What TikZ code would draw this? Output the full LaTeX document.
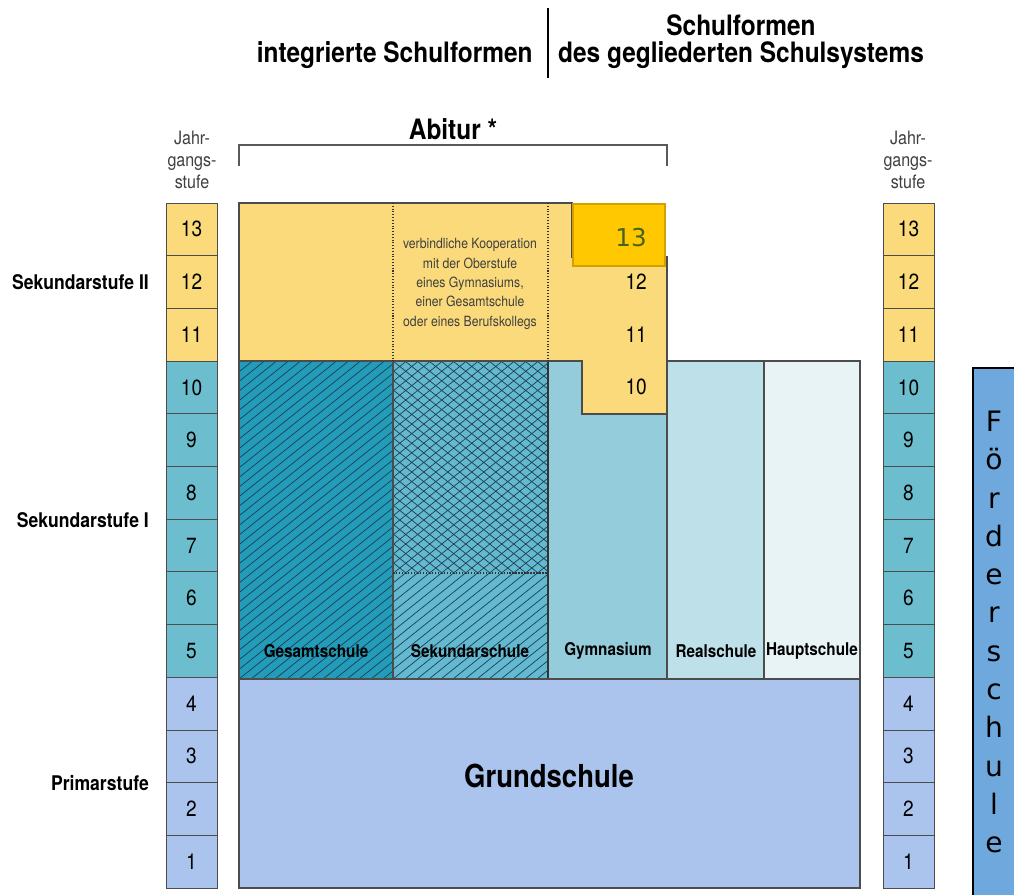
\documentclass[tikz,border=0pt]{standalone}
\usepackage{fontspec}
\setmainfont{TeX Gyre Heros}
\newfontfamily\condfont[FakeStretch=0.87]{TeX Gyre Heros}
\newfontfamily\vfont{DejaVu Sans}
\usetikzlibrary{positioning}
\definecolor{syellow}{RGB}{250,218,122}
\definecolor{sgold}{RGB}{255,200,0}
\definecolor{sgoldline}{RGB}{212,160,0}
\definecolor{sgoldtext}{RGB}{70,100,30}
\definecolor{steal}{RGB}{108,190,206}
\definecolor{sgesamt}{RGB}{34,156,186}
\definecolor{ssekund}{RGB}{100,185,210}
\definecolor{sgym}{RGB}{148,204,220}
\definecolor{sreal}{RGB}{190,224,232}
\definecolor{shaupt}{RGB}{232,243,246}
\definecolor{sgrund}{RGB}{170,196,238}
\definecolor{sfoerder}{RGB}{111,168,220}
\definecolor{shatch}{RGB}{30,60,70}

\begin{document}
\begin{tikzpicture}[x=0.02cm, y=-0.02cm,
  gradebox/.style={draw=gray!60!black, line width=0.5pt, minimum width=1.02cm,
    minimum height=1.054cm, inner sep=0pt, font=\condfont\fontsize{12.5}{14}\selectfont},
  blockline/.style={draw=gray!60!black, line width=0.6pt},
  blocklabel/.style={font=\condfont\bfseries\fontsize{10}{12}\selectfont, inner sep=1pt},
  stufelabel/.style={anchor=east, font=\condfont\bfseries\fontsize{11.5}{14}\selectfont},
  headlabel/.style={font=\condfont\bfseries\fontsize{16}{18}\selectfont, inner sep=0pt},
  jahrlabel/.style={align=center, text=black!75, font=\condfont\fontsize{10.5}{12.5}\selectfont},
  hatchline/.style={line width=0.4pt, shatch}]
\useasboundingbox (0,0) rectangle (1014,894);
\fill[white] (0,0) rectangle (1014,894);
% Header
\node[headlabel, anchor=base east] (integr) at (533,62) {integrierte Schulformen};
\node[headlabel, anchor=base] (gegl1) at (741,35) {Schulformen};
\node[headlabel, anchor=base] (gegl2) at (741,62) {des gegliederten Schulsystems};
\draw[line width=1.2pt] (548,8) -- (548,78);
% Abitur bracket
\node[headlabel, anchor=base] (abitur) at (453,139) {Abitur *};
\draw[gray!70!black, line width=0.8pt] (239,166) -- (239,145) -- (667,145) -- (667,166);
% Sekundarstufe I blocks
\fill[blockline, fill=sgesamt] (239,361) rectangle (393,679);
\fill[blockline, fill=ssekund] (393,361) rectangle (548,679);
\filldraw[blockline, fill=sgym] (548,361) rectangle (667,679);
\filldraw[blockline, fill=sreal] (667,361) rectangle (764,679);
\filldraw[blockline, fill=shaupt] (764,361) rectangle (860,679);
% Hatching
\begin{scope}
  \clip (239,361) rectangle (393,679);
  \foreach \k in {-36,...,14}
    \draw[hatchline] ({239+\k*12},679) -- ++(400,-320);
\end{scope}
\begin{scope}
  \clip (393,361) rectangle (548,679);
  \foreach \k in {-36,...,14}
    \draw[hatchline] ({393+\k*12},679) -- ++(400,-320);
\end{scope}
\begin{scope}
  \clip (393,361) rectangle (548,573);
  \foreach \k in {-26,...,14}
    \draw[hatchline] ({393+\k*12},361) -- ++(400,320);
\end{scope}
\draw[blockline] (239,361) rectangle (393,679);
\draw[blockline] (393,361) rectangle (548,679);
\draw[line width=0.9pt, black!80] (548,361) -- (548,679);
\draw[gray!40!black, densely dotted, line width=0.7pt] (393,573) -- (548,573);
% Oberstufe
\filldraw[blockline, fill=syellow] (239,203) -- (572,203) -- (572,257) -- (667,257)
  -- (667,414) -- (582,414) -- (582,361) -- (239,361) -- cycle;
\draw[gray!40!black, densely dotted, line width=0.6pt] (393,203) -- (393,361);
\draw[gray!40!black, densely dotted, line width=0.6pt] (548,203) -- (548,361);
\node[align=center, text=black!75, font=\condfont\fontsize{8}{11}\selectfont] (koop) at (470,284)
  {verbindliche Kooperation\\mit der Oberstufe\\eines Gymnasiums,\\einer Gesamtschule\\oder eines Berufskollegs};
\node[anchor=east, font=\condfont\fontsize{12.5}{14}\selectfont] (gym12) at (653,282) {12};
\node[anchor=east, font=\condfont\fontsize{12.5}{14}\selectfont] (gym11) at (653,335) {11};
\node[anchor=east, font=\condfont\fontsize{12.5}{14}\selectfont] (gym10) at (653,387) {10};
\node[draw=sgoldline, fill=sgold, line width=1pt, anchor=north west,
  minimum width=1.84cm, minimum height=1.24cm] (gold13) at (572,203) {};
\node[text=sgoldtext, font=\vfont\fontsize{14}{16}\selectfont] (gold13txt) at (631,238) {13};
% Block labels
\node[blocklabel] (gesamt) at (316,651) {Gesamtschule};
\node[blocklabel] (sekund) at (470,651) {Sekundarschule};
\node[blocklabel] (gym) at (608,651) {Gymnasium};
\node[blocklabel] (real) at (716,651) {Realschule};
\node[blocklabel] (haupt) at (812,651) {Hauptschule};
% Grundschule
\filldraw[blockline, fill=sgrund] (239,679) rectangle (860,888);
\node[font=\condfont\bfseries\fontsize{18}{20}\selectfont] (grund) at (549,776) {Grundschule};
% Jahrgangsstufen
\node[jahrlabel] (jahrl) at (192,160) {Jahr-\\gangs-\\stufe};
\node[jahrlabel] (jahrr) at (908,160) {Jahr-\\gangs-\\stufe};
\foreach \g/\c in {13/syellow,12/syellow,11/syellow,10/steal,9/steal,8/steal,7/steal,
                   6/steal,5/steal,4/sgrund,3/sgrund,2/sgrund,1/sgrund} {
  \node[gradebox, fill=\c] (gl\g) at (191.5,{229.35+(13-\g)*52.7}) {\g};
  \node[gradebox, fill=\c] (gr\g) at (908.5,{229.35+(13-\g)*52.7}) {\g};
}
\node[stufelabel] (sek2) at (155,282) {Sekundarstufe II};
\node[stufelabel] (sek1) at (155,520) {Sekundarstufe I};
\node[stufelabel] (prim) at (155,783) {Primarstufe};
% Foerderschule
\filldraw[draw=black, line width=0.8pt, fill=sfoerder] (973,368) rectangle (1030,910);
\node[align=center, inner sep=0pt, font=\vfont\fontsize{16}{21.8}\selectfont] (foerder) at (994,632)
  {F\\ö\\r\\d\\e\\r\\s\\c\\h\\u\\l\\e};
\end{tikzpicture}
\end{document}
